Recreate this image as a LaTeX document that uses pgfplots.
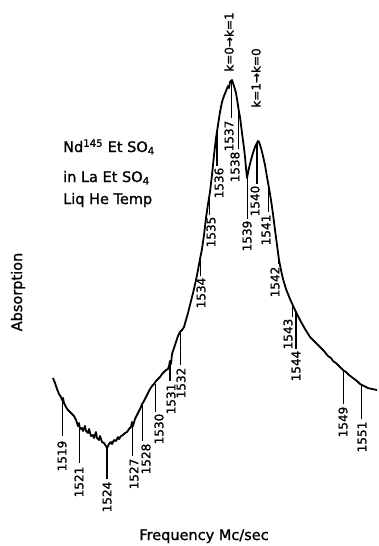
\documentclass[border=0pt]{standalone}
\usepackage{fontspec}
\setmainfont{DejaVu Sans}[FakeBold=1.2]
\usepackage{pgfplots}
\pgfplotsset{compat=1.18}
\begin{document}
\begin{tikzpicture}
\begin{axis}[
  scale only axis, width=378pt, height=546pt,
  xmin=0, xmax=378, ymin=0, ymax=546, y dir=reverse,
  hide axis, clip=false,
  cycle list={{black, solid, mark=none, line width=1.5pt}},
]
\path (axis cs:0,0) rectangle (axis cs:378,546);
% absorption curve
\addplot[black, solid, mark=none, line width=1.8pt, line join=round] coordinates {
(53,378) (55,383) (57,389) (59,394) (61,397) (62,400) (63,398) (64,403) (66,407) (68,410) (70,412) (72,414) (74,416) (76,420) (77,423) (78,426) (79,423) (80,429) (82,428) (83,431) (85,426) (86,431) (88,433) (89,429) (91,436) (93,435) (94,438) (96,432) (97,438) (99,440) (100,436) (102,442) (104,443) (106,446) (107,448) (109,444) (111,442) (112,444) (114,440) (116,441) (118,437) (119,439) (121,436) (123,435) (125,433) (127,432) (129,429) (131,427) (132,422) (133,426) (135,419) (137,415) (139,411) (141,407) (142,404) (144,401) (146,397) (148,393) (150,389) (152,386) (154,384) (156,381) (158,379) (160,377) (162,374) (164,372) (166,370) (168,369) (169,366) (170,361) (171,364) (172,354) (174,348) (176,342) (178,336) (180,332) (182,330) (184,327) (186,320) (188,313) (190,305) (192,297) (194,289) (196,280) (198,270) (200,259) (202,249) (204,235) (206,218) (208,204) (210,192) (212,175) (214,155) (216,138) (218,125) (220,112) (222,102) (224,96) (226,91) (228,86) (229,88) (230,82) (232,80) (233,83) (234,86) (236,93) (237,99) (239,112) (240,117) (242,133) (244,148) (245,157) (246,168) (247,178) (249,168) (251,160) (253,153) (255,147) (257,143) (258,141) (259,142) (261,148) (263,156) (265,165) (267,177) (269,188) (271,200) (273,214) (275,230) (277,245) (279,260) (281,270) (283,279) (286,289) (290,299) (295,310) (300,320) (305,329) (310,337) (315,342) (320,347) (324,351) (328,356) (331,358) (333,361) (336,363) (339,366) (343,370) (346,372) (349,375) (353,378) (357,381) (360,384) (364,386) (368,388) (372,389) (377,390)
};
% marker lines
\addplot coordinates {(62,400) (62,436)};
\addplot coordinates {(79,426) (79,463)};
\addplot coordinates {(107,448) (107,479)};
\addplot coordinates {(132,423) (132,456)};
\addplot coordinates {(142,405) (142,441)};
\addplot coordinates {(155,384) (155,412)};
\addplot coordinates {(170,361) (170,381)};
\addplot coordinates {(180,332) (180,365)};
\addplot coordinates {(200,259) (200,276)};
\addplot coordinates {(209,198) (209,215)};
\addplot coordinates {(217,131) (217,166)};
\addplot coordinates {(231,82) (231,118)};
\addplot coordinates {(238,106) (238,149)};
\addplot coordinates {(247,178) (247,219)};
\addplot coordinates {(257,143) (257,184)};
\addplot coordinates {(268,182) (268,212)};
\addplot coordinates {(278,252) (278,264)};
\addplot coordinates {(292,304) (292,317)};
\addplot coordinates {(296,312) (296,349)};
\addplot coordinates {(343,370) (343,404)};
\addplot coordinates {(361,385) (361,419)};
% marker labels
\tikzset{lab/.style={rotate=90, anchor=east, inner sep=0.5pt, font=\fontsize{12}{12}\selectfont}}
\node[lab] at (axis cs:62,440) {1519};
\node[lab] at (axis cs:79,466) {1521};
\node[lab] at (axis cs:107,481) {1524};
\node[lab] at (axis cs:134,458) {1527};
\node[lab] at (axis cs:146,443) {1528};
\node[lab] at (axis cs:159,413) {1530};
\node[lab] at (axis cs:171,383) {1531};
\node[lab] at (axis cs:181,367) {1532};
\node[lab] at (axis cs:201,277) {1534};
\node[lab] at (axis cs:211,216) {1535};
\node[lab] at (axis cs:219,167) {1536};
\node[lab] at (axis cs:229,120) {1537};
\node[lab] at (axis cs:235,151) {1538};
\node[lab] at (axis cs:247,220) {1539};
\node[lab] at (axis cs:255,185) {1540};
\node[lab] at (axis cs:266,214) {1541};
\node[lab] at (axis cs:275,266) {1542};
\node[lab] at (axis cs:288,318) {1543};
\node[lab] at (axis cs:296,350) {1544};
\node[lab] at (axis cs:343,406) {1549};
\node[lab] at (axis cs:362,421) {1551};
% transitions
\node[rotate=90, inner sep=0pt, font=\fontsize{12}{12}\selectfont] at (axis cs:229,42) {k=0→k=1};
\node[rotate=90, inner sep=0pt, font=\fontsize{12}{12}\selectfont] at (axis cs:256,78) {k=1→k=0};
% annotation
\tikzset{ann/.style={anchor=base west, inner sep=0pt, font=\fontsize{14.5}{14.5}\selectfont}}
\node[ann] at (axis cs:63,152) {Nd\textsuperscript{145} Et SO\textsubscript{4}};
\node[ann] at (axis cs:63,182) {in La Et SO\textsubscript{4}};
\node[ann] at (axis cs:63,204) {Liq He Temp};
% axis titles
\node[rotate=90, inner sep=0pt, font=\fontsize{14.5}{14.5}\selectfont] at (axis cs:18,292) {Absorption};
\node[anchor=base, inner sep=0pt, font=\fontsize{14.5}{14.5}\selectfont] at (axis cs:204,540) {Frequency Mc/sec};
\end{axis}
\end{tikzpicture}
\end{document}
